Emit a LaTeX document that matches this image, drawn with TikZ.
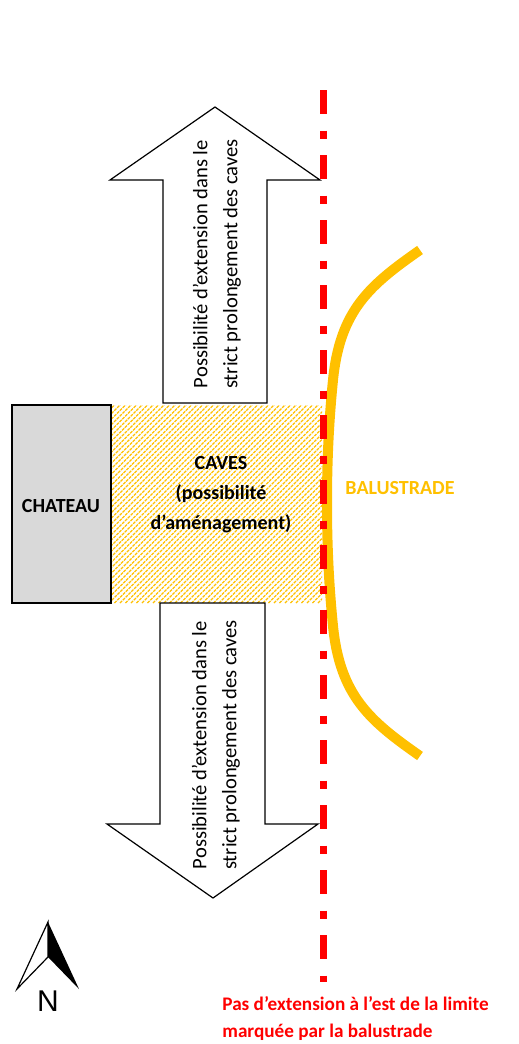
\documentclass[tikz,border=0pt]{standalone}
\usepackage{fontspec}
\setmainfont{Carlito}
\newfontfamily\northfont{Liberation Sans}
\definecolor{balustrade}{RGB}{255,192,0}
\definecolor{chateaugray}{RGB}{217,217,217}
\begin{document}
\begin{tikzpicture}
[
x=0.5pt, y=-0.5pt,
every node/.style={font=\fontsize{10}{15}\selectfont},
Building/.style={draw=black, fill=chateaugray, line width=0.8pt},
Hatch/.style={draw=balustrade, line width=0.6pt, dash pattern=on 1.5pt off 0.5pt},
BigArrow/.style={draw=black, fill=white, line width=0.6pt, line join=miter},
ArrowText/.style={rotate=90, align=center, inner sep=0pt, font=\fontsize{10.3}{15}\selectfont},
Limit/.style={draw=red, line width=3.5pt, dash pattern=on 12pt off 8.25pt on 4pt off 8.25pt},
Railing/.style={draw=balustrade, line width=5pt},
Label/.style={align=center, inner sep=0pt, font=\fontsize{10}{15}\selectfont\bfseries}
]
\useasboundingbox (0,0) rectangle (519,1044);

% caves
\begin{scope}
\clip (111,405) rectangle (322,603);
\foreach \i in {-210,-204.5,...,330} \draw[Hatch] (\i,603) -- ++(200,-200);
\end{scope}
\node[Label] (caves) at (221,495) {CAVES\\(possibilité\\d'aménagement)};

% chateau
\draw[Building] (12,405) rectangle (111,603);
\node[Label] (chateau) at (61,506) {CHATEAU};

% extension arrows
\draw[BigArrow] (163,403) -- (163,180) -- (110,180) -- (215,107) -- (320,180) -- (267,180) -- (267,403) -- cycle;
\draw[BigArrow] (160,603) -- (160,824) -- (107,824) -- (213,898) -- (318,824) -- (265,824) -- (265,603) -- cycle;
\node[ArrowText] (upText) at (217,264) {Possibilité d'extension dans le\\strict prolongement des caves};
\node[ArrowText] (downText) at (216,745) {Possibilité d'extension dans le\\strict prolongement des caves};

% balustrade
\draw[Railing] (420,250) .. controls (370,285) and (340,310) .. (333,380)
  .. controls (328,430) and (327,470) .. (327,503)
  .. controls (327,536) and (328,576) .. (333,626)
  .. controls (340,696) and (370,721) .. (420,756);
\node[Label, text=balustrade] (balustrade) at (400,488) {BALUSTRADE};

% limite
\draw[Limit] (323,90) -- (323,982);
\node[Label, text=red, align=left, anchor=west, font=\fontsize{9.6}{13.5}\selectfont\bfseries] (limitText) at (222,1019) {Pas d'extension à l'est de la limite\\marquée par la balustrade};

% nord
\draw[line width=0.6pt, line join=miter] (48,922) -- (17,989) -- (48,957) -- cycle;
\fill[black] (48,922) -- (79,989) -- (48,957) -- cycle;
\node[font=\fontsize{15}{18}\selectfont\northfont] (north) at (48,1001) {N};
\end{tikzpicture}
\end{document}
